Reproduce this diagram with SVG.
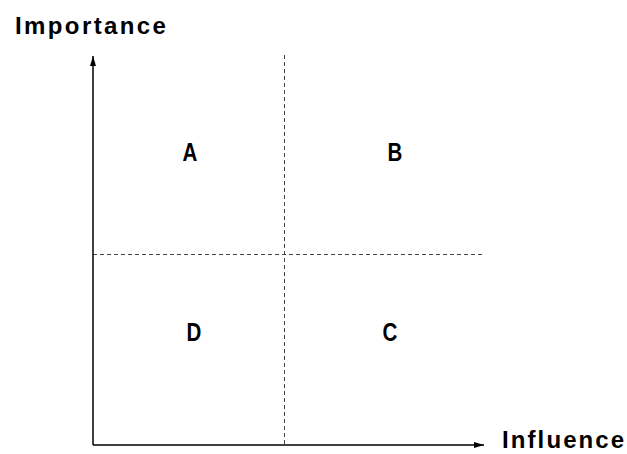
<svg xmlns="http://www.w3.org/2000/svg" width="627" height="454" viewBox="0 0 627 454">
<style>
.lbl{font-family:"Liberation Sans",Arial,sans-serif;font-weight:bold;fill:#000}
.q{font-size:25px;text-anchor:middle}
.axis{stroke:#000;stroke-width:1.5;fill:none}
.dash{stroke:#444;stroke-width:1;stroke-dasharray:4 3;fill:none}
</style>
<defs>
<marker id="ah" viewBox="0 0 10 6" refX="10" refY="3" markerWidth="10" markerHeight="6" markerUnits="userSpaceOnUse" orient="auto">
<path d="M0,0 L10,3 L0,6 Z" fill="#000"/>
</marker>
</defs>
<g id="connectors">
<line class="dash" x1="284.5" y1="55" x2="284.5" y2="445"/>
<line class="dash" x1="93" y1="254.5" x2="484" y2="254.5"/>
<line class="axis" x1="93" y1="445" x2="93" y2="56" marker-end="url(#ah)"/>
<line class="axis" x1="93" y1="445" x2="484" y2="445" marker-end="url(#ah)"/>
</g>
<g id="axis-y-label"><text class="lbl" x="15" y="34" font-size="24" letter-spacing="2.4">Importance</text></g>
<g id="axis-x-label"><text class="lbl" x="502" y="448" font-size="24" letter-spacing="2.1">Influence</text></g>
<g id="quadrant-A"><text class="lbl q" transform="translate(190 161) scale(0.82 1)">A</text></g>
<g id="quadrant-B"><text class="lbl q" transform="translate(395 161) scale(0.82 1)">B</text></g>
<g id="quadrant-D"><text class="lbl q" transform="translate(194 341) scale(0.82 1)">D</text></g>
<g id="quadrant-C"><text class="lbl q" transform="translate(390 341) scale(0.82 1)">C</text></g>
</svg>
